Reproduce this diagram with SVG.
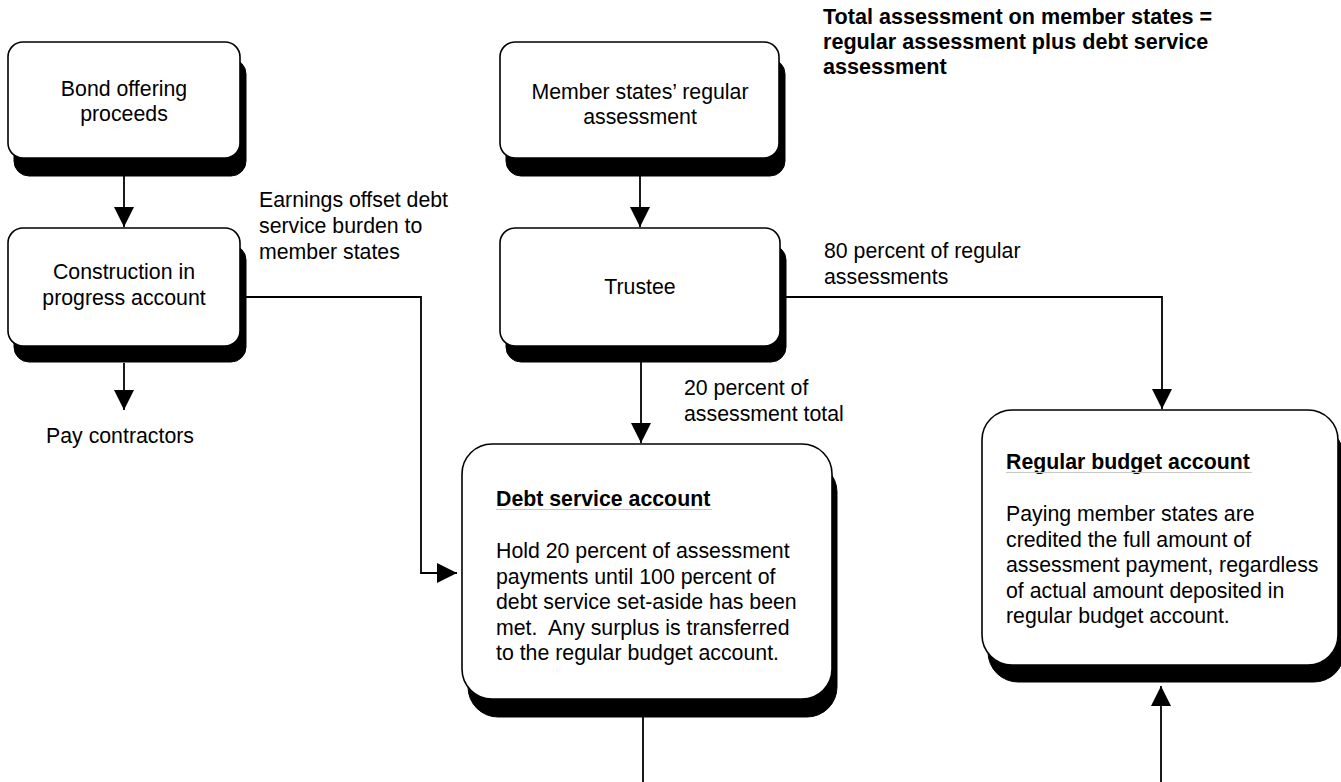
<svg xmlns="http://www.w3.org/2000/svg" width="1341" height="782" viewBox="0 0 1341 782">
<style>
  text { font-family: "Liberation Sans", Arial, Helvetica, sans-serif; font-size: 21.3px; fill: #000; }
  .b { font-weight: bold; }
  .t { font-size: 21.6px; }
  .c { text-anchor: middle; }
  .box { fill: #fff; stroke: #000; stroke-width: 1.6; }
  .sh { fill: #000; stroke: #000; stroke-width: 1; }
  .ul { stroke: #c8c8c8; stroke-width: 1.2; }
  .conn { fill: none; stroke: #000; stroke-width: 1.8; }
</style>
<defs>
  <marker id="ah" viewBox="0 0 20 20" refX="20" refY="10" markerWidth="20" markerHeight="20" markerUnits="userSpaceOnUse" orient="auto">
    <path d="M0,0 L20,10 L0,20 z" fill="#000"/>
  </marker>
</defs>
<rect width="1341" height="782" fill="#fff"/>

<g id="title">
  <text class="b t" x="823" y="24">Total assessment on member states =</text>
  <text class="b t" x="823" y="49">regular assessment plus debt service</text>
  <text class="b t" x="823" y="74">assessment</text>
</g>

<g id="connectors">
  <path class="conn" d="M124,176 V227" marker-end="url(#ah)"/>
  <path class="conn" d="M124,363 V410" marker-end="url(#ah)"/>
  <path class="conn" d="M246,297 H421 V573 H457" marker-end="url(#ah)"/>
  <path class="conn" d="M640,176 V227" marker-end="url(#ah)"/>
  <path class="conn" d="M641,362 V443" marker-end="url(#ah)"/>
  <path class="conn" d="M786,297 H1162 V409" marker-end="url(#ah)"/>
  <path class="conn" d="M643,717 V782"/>
  <path class="conn" d="M1161,782 V686" marker-end="url(#ah)"/>
</g>

<g id="labels">
  <text x="259" y="207">Earnings offset debt</text>
  <text x="259" y="233">service burden to</text>
  <text x="259" y="259">member states</text>
  <text x="824" y="258">80 percent of regular</text>
  <text x="824" y="284">assessments</text>
  <text x="684" y="395">20 percent of</text>
  <text x="684" y="421">assessment total</text>
  <text class="c" x="120" y="443">Pay contractors</text>
</g>

<g id="bond">
  <rect class="sh" x="14" y="59" width="232" height="117" rx="15"/>
  <rect class="box" x="8" y="42" width="232" height="116" rx="15"/>
  <text class="c" x="124" y="96">Bond offering</text>
  <text class="c" x="124" y="121">proceeds</text>
</g>

<g id="construction">
  <rect class="sh" x="14" y="245" width="232" height="117" rx="15"/>
  <rect class="box" x="8" y="228" width="232" height="118" rx="15"/>
  <text class="c" x="124" y="279">Construction in</text>
  <text class="c" x="124" y="305">progress account</text>
</g>

<g id="member">
  <rect class="sh" x="506" y="59" width="279" height="117" rx="15"/>
  <rect class="box" x="500" y="42" width="279" height="116" rx="15"/>
  <text class="c" x="640" y="99">Member states’ regular</text>
  <text class="c" x="640" y="124">assessment</text>
</g>

<g id="trustee">
  <rect class="sh" x="506" y="245" width="280" height="117" rx="15"/>
  <rect class="box" x="500" y="228" width="280" height="118" rx="15"/>
  <text class="c" x="640" y="294">Trustee</text>
</g>

<g id="debt">
  <rect class="sh" x="468" y="462" width="369" height="255" rx="30"/>
  <rect class="box" x="462" y="444" width="370" height="255" rx="30"/>
  <text class="b" x="496" y="506">Debt service account</text>
  <line class="ul" x1="496" y1="509.5" x2="712" y2="509.5"/>
  <text x="496" y="558">Hold 20 percent of assessment</text>
  <text x="496" y="583.5">payments until 100 percent of</text>
  <text x="496" y="609">debt service set-aside has been</text>
  <text x="496" y="634.5">met.&#160; Any surplus is transferred</text>
  <text x="496" y="660">to the regular budget account.</text>
</g>

<g id="regular">
  <rect class="sh" x="988" y="427" width="356" height="255" rx="30"/>
  <rect class="box" x="982" y="410" width="356" height="255" rx="30"/>
  <text class="b" x="1006" y="469">Regular budget account</text>
  <line class="ul" x1="1006" y1="472.5" x2="1252" y2="472.5"/>
  <text x="1006" y="521">Paying member states are</text>
  <text x="1006" y="546.5">credited the full amount of</text>
  <text x="1006" y="572">assessment payment, regardless</text>
  <text x="1006" y="597.5">of actual amount deposited in</text>
  <text x="1006" y="623">regular budget account.</text>
</g>
</svg>
